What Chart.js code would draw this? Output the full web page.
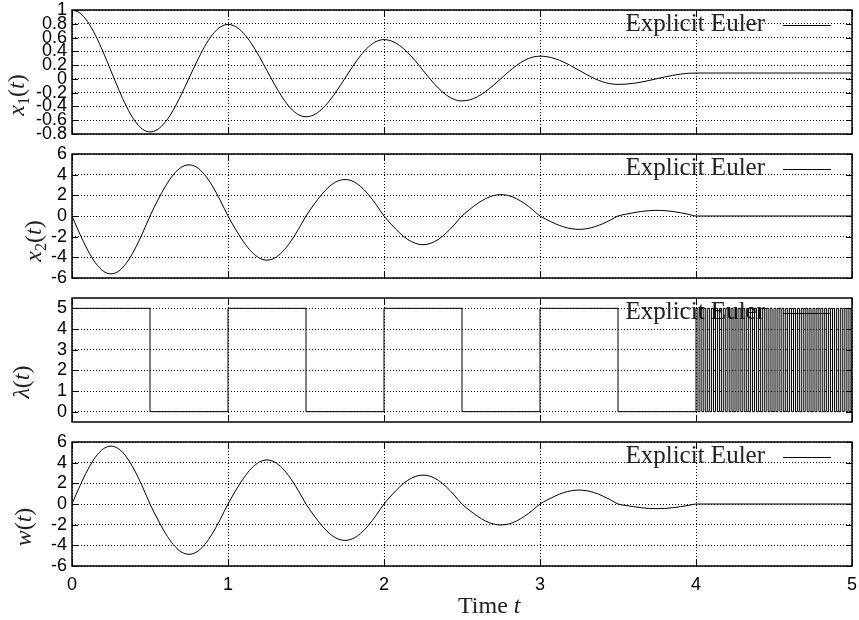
<!DOCTYPE html>
<html>
<head>
<meta charset="utf-8">
<script src="https://cdn.jsdelivr.net/npm/chart.js@4.4.1/dist/chart.umd.min.js"></script>
<style>
  html, body { margin: 0; padding: 0; background: #fff; }
  #wrap { position: relative; width: 859px; height: 620px; }
  canvas { position: absolute; left: 0; }
</style>
</head>
<body>
<div id="wrap">
  <canvas id="c1" width="859" height="144" style="top:0px"></canvas>
  <canvas id="c2" width="859" height="144" style="top:144px"></canvas>
  <canvas id="c3" width="859" height="144" style="top:288px"></canvas>
  <canvas id="c4" width="859" height="188" style="top:432px"></canvas>
</div>
<script>
// sample times (t) for the smooth curves, read every 0.05 up to t=4
const tGrid = [0,0.05,0.1,0.15,0.2,0.25,0.3,0.35,0.4,0.45,0.5,0.55,0.6,0.65,0.7,0.75,0.8,0.85,0.9,0.95,
  1,1.05,1.1,1.15,1.2,1.25,1.3,1.35,1.4,1.45,1.5,1.55,1.6,1.65,1.7,1.75,1.8,1.85,1.9,1.95,
  2,2.05,2.1,2.15,2.2,2.25,2.3,2.35,2.4,2.45,2.5,2.55,2.6,2.65,2.7,2.75,2.8,2.85,2.9,2.95,
  3,3.05,3.1,3.15,3.2,3.25,3.3,3.35,3.4,3.45,3.5,3.55,3.6,3.65,3.7,3.75,3.8,3.85,3.9,3.95,
  4,4.5,5];

const x1Vals = [1,0.957,0.831,0.635,0.388,0.115,-0.158,-0.405,-0.601,-0.727,
  -0.77,-0.732,-0.621,-0.449,-0.231,0.01,0.251,0.469,0.641,0.752,
  0.79,0.757,0.662,0.514,0.327,0.12,-0.087,-0.274,-0.422,-0.517,
  -0.55,-0.523,-0.443,-0.319,-0.163,0.01,0.183,0.339,0.463,0.543,
  0.57,0.548,0.485,0.387,0.263,0.125,-0.013,-0.137,-0.235,-0.298,
  -0.32,-0.304,-0.258,-0.186,-0.095,0.005,0.105,0.196,0.268,0.314,
  0.33,0.32,0.291,0.246,0.188,0.125,0.062,0.004,-0.041,-0.07,
  -0.08,-0.076,-0.064,-0.046,-0.023,0.003,0.028,0.051,0.069,0.081,
  0.085,0.085,0.085];

const x2Vals = [0,-1.73,-3.29,-4.53,-5.33,-5.6,-5.33,-4.53,-3.29,-1.73,
  0,1.53,2.91,4.0,4.71,4.95,4.71,4.0,2.91,1.53,
  0,-1.32,-2.51,-3.45,-4.06,-4.27,-4.06,-3.45,-2.51,-1.32,
  0,1.09,2.08,2.86,3.36,3.53,3.36,2.86,2.08,1.09,
  0,-0.86,-1.63,-2.25,-2.64,-2.78,-2.64,-2.25,-1.63,-0.86,
  0,0.64,1.22,1.67,1.97,2.07,1.97,1.67,1.22,0.64,
  0,-0.4,-0.76,-1.04,-1.23,-1.29,-1.23,-1.04,-0.76,-0.4,
  0,0.17,0.32,0.44,0.52,0.55,0.52,0.44,0.32,0.17,
  0,0,0];

const wVals = [0,1.73,3.29,4.53,5.33,5.6,5.33,4.53,3.29,1.73,
  0,-1.5,-2.86,-3.94,-4.63,-4.87,-4.63,-3.94,-2.86,-1.5,
  0,1.32,2.5,3.45,4.05,4.26,4.05,3.45,2.5,1.32,
  0,-1.09,-2.07,-2.85,-3.35,-3.52,-3.35,-2.85,-2.07,-1.09,
  0,0.87,1.65,2.27,2.66,2.8,2.66,2.27,1.65,0.87,
  0,-0.63,-1.19,-1.64,-1.93,-2.03,-1.93,-1.64,-1.19,-0.63,
  0,0.42,0.79,1.09,1.28,1.35,1.28,1.09,0.79,0.42,
  0,-0.14,-0.26,-0.36,-0.43,-0.45,-0.43,-0.36,-0.26,-0.14,
  0,0,0];

// lambda switching times, chattering after t=4
const lamT = [0,0.5,1,1.5,2,2.5,3,3.5,
  4,4.0125,4.025,4.0375,4.05,4.0625,4.075,4.0875,4.1,4.1125,4.125,4.1375,4.15,4.1625,4.175,4.1875,
  4.2,4.2125,4.225,4.2375,4.25,4.2625,4.275,4.2875,4.3,4.3125,4.325,4.3375,4.35,4.3625,4.375,4.3875,
  4.4,4.4125,4.425,4.4375,4.45,4.4625,4.475,4.4875,4.5,4.5125,4.525,4.5375,4.55,4.5625,4.575,4.5875,
  4.6,4.6125,4.625,4.6375,4.65,4.6625,4.675,4.6875,4.7,4.7125,4.725,4.7375,4.75,4.7625,4.775,4.7875,
  4.8,4.8125,4.825,4.8375,4.85,4.8625,4.875,4.8875,4.9,4.9125,4.925,4.9375,4.95,4.9625,4.975,4.9875,5];
const lamVals = [5,0,5,0,5,0,5,0,
  5,0,5,0,5,0,5,0,5,0,5,0,5,0,5,0,
  5,0,5,0,5,0,5,0,5,0,5,0,5,0,5,0,
  5,0,5,0,5,0,5,0,5,0,5,0,5,0,5,0,
  5,0,5,0,5,0,5,0,5,0,5,0,5,0,5,0,
  5,0,5,0,5,0,5,0,5,0,5,0,5,0,5,0,5];

const xTicks = [0, 1, 2, 3, 4, 5];
const x1Ticks = [-0.8, -0.6, -0.4, -0.2, 0, 0.2, 0.4, 0.6, 0.8, 1];
const x2Ticks = [-6, -4, -2, 0, 2, 4, 6];
const lamTicks = [0, 1, 2, 3, 4, 5];
const wTicks = [-6, -4, -2, 0, 2, 4, 6];
const legendLabel = 'Explicit Euler';

const pts = (ts, vs) => ts.map((t, i) => ({ x: t, y: vs[i] }));

const serif = '"Liberation Serif", "Times New Roman", serif';
const sans = '"Liberation Sans", Arial, sans-serif';
const it = '24px ' + serif;
const ital = 'italic 24px ' + serif;
const sub = '16px ' + serif;

function drawParts(ctx, parts, x, y) {
  parts.forEach(p => {
    ctx.font = p.f;
    ctx.fillText(p.s, x, y + (p.dy || 0));
    x += ctx.measureText(p.s).width;
  });
}
function partsWidth(ctx, parts) {
  let w = 0;
  parts.forEach(p => { ctx.font = p.f; w += ctx.measureText(p.s).width; });
  return w;
}

const panelDeco = {
  id: 'panelDeco',
  beforeDatasetsDraw(chart, args, o) {
    const ctx = chart.ctx, a = chart.chartArea;
    ctx.save();
    ctx.fillStyle = '#222';
    ctx.font = '25px ' + serif;
    ctx.textAlign = 'right';
    ctx.textBaseline = 'alphabetic';
    ctx.fillText(legendLabel, 765, a.top + 21);
    ctx.beginPath();
    ctx.moveTo(783, a.top + 15.5);
    ctx.lineTo(831, a.top + 15.5);
    ctx.lineWidth = 1;
    ctx.strokeStyle = '#000';
    ctx.stroke();
    ctx.restore();
  },
  afterDatasetsDraw(chart, args, o) {
    const ctx = chart.ctx, a = chart.chartArea;
    const xs = chart.scales.x, ys = chart.scales.y;
    ctx.save();
    ctx.strokeStyle = '#000';
    ctx.lineWidth = 1;
    ctx.beginPath();
    xTicks.forEach(v => {
      const px = Math.round(xs.getPixelForValue(v)) + 0.5;
      ctx.moveTo(px, a.top); ctx.lineTo(px, a.top + 6);
      ctx.moveTo(px, a.bottom); ctx.lineTo(px, a.bottom - 6);
    });
    o.yTicks.forEach(v => {
      const py = Math.round(ys.getPixelForValue(v)) + 0.5;
      ctx.moveTo(a.left, py); ctx.lineTo(a.left + 6, py);
      ctx.moveTo(a.right, py); ctx.lineTo(a.right - 6, py);
    });
    ctx.stroke();
    ctx.lineWidth = 1.5;
    ctx.strokeRect(a.left, a.top, a.right - a.left, a.bottom - a.top);
    ctx.restore();
  },
  afterDraw(chart, args, o) {
    const ctx = chart.ctx, a = chart.chartArea;
    ctx.save();
    ctx.fillStyle = '#222';
    ctx.textAlign = 'left';
    ctx.textBaseline = 'alphabetic';
    ctx.translate(o.tx, a.top + o.ty);
    ctx.rotate(-Math.PI / 2);
    drawParts(ctx, o.title, -partsWidth(ctx, o.title) / 2, 0);
    ctx.restore();
    if (o.xTitle) {
      ctx.save();
      ctx.fillStyle = '#222';
      ctx.textBaseline = 'alphabetic';
      drawParts(ctx, o.xTitle, 458, a.bottom + 47);
      ctx.restore();
    }
  }
};

function makePanel(id, data, stepped, yMin, yMax, yTicks, deco, bottom) {
  new Chart(document.getElementById(id), {
    type: 'line',
    data: {
      datasets: [{
        data: data,
        borderColor: '#000',
        borderWidth: 1,
        pointRadius: 0,
        fill: false,
        stepped: stepped,
        cubicInterpolationMode: 'monotone'
      }]
    },
    options: {
      responsive: false,
      animation: false,
      events: [],
      layout: { padding: { top: 10, right: 7, left: 0, bottom: 0 } },
      plugins: {
        legend: { display: false },
        tooltip: { enabled: false },
        panelDeco: Object.assign({ yTicks: yTicks }, deco)
      },
      scales: {
        x: {
          type: 'linear', min: 0, max: 5,
          afterBuildTicks: s => { s.ticks = xTicks.map(v => ({ value: v })); },
          afterFit: s => { s.height = bottom ? 54 : 10; s.paddingLeft = 0; s.paddingRight = 0; },
          grid: { color: '#000', lineWidth: 1, drawTicks: false },
          border: { display: false, dash: [1, 2] },
          ticks: { display: bottom, padding: 8, color: '#000', maxRotation: 0, autoSkip: false,
                   font: { family: sans, size: 18 } }
        },
        y: {
          min: yMin, max: yMax,
          afterBuildTicks: s => { s.ticks = yTicks.map(v => ({ value: v })); },
          afterFit: s => { s.width = 72; s.paddingTop = 0; s.paddingBottom = 0; },
          grid: { color: '#000', lineWidth: 1, drawTicks: false },
          border: { display: false, dash: [1, 2] },
          ticks: { padding: 5, color: '#000', autoSkip: false,
                   font: { family: sans, size: 18 },
                   callback: v => String(Math.round(v * 10) / 10) }
        }
      }
    },
    plugins: [panelDeco]
  });
}

makePanel('c1', pts(tGrid, x1Vals), false, -0.8, 1, x1Ticks,
  { tx: 23.5, ty: 85, title: [{ s: 'x', f: ital }, { s: '1', f: sub, dy: 5 }, { s: '(', f: it }, { s: 't', f: ital }, { s: ')', f: it }] }, false);
makePanel('c2', pts(tGrid, x2Vals), false, -6, 6, x2Ticks,
  { tx: 40.5, ty: 87, title: [{ s: 'x', f: ital }, { s: '2', f: sub, dy: 5 }, { s: '(', f: it }, { s: 't', f: ital }, { s: ')', f: it }] }, false);
makePanel('c3', pts(lamT, lamVals), true, -0.5, 5.5, lamTicks,
  { tx: 28.5, ty: 84, title: [{ s: 'λ', f: ital }, { s: '(', f: it }, { s: 't', f: ital }, { s: ')', f: it }] }, false);
makePanel('c4', pts(tGrid, wVals), false, -6, 6, wTicks,
  { tx: 30.5, ty: 85, title: [{ s: 'w', f: ital }, { s: '(', f: it }, { s: 't', f: ital }, { s: ')', f: it }],
    xTitle: [{ s: 'Time ', f: it }, { s: 't', f: ital }] }, true);
</script>
</body>
</html>
